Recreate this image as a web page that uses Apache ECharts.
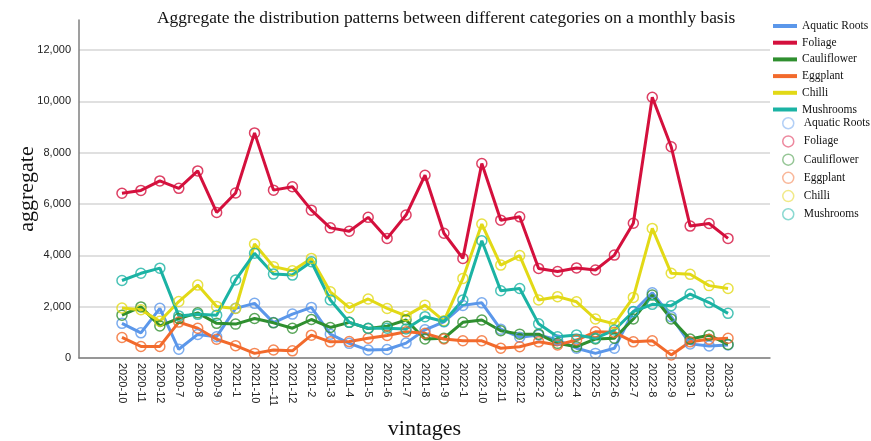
<!DOCTYPE html>
<html>
<head>
<meta charset="utf-8">
<script src="https://cdn.jsdelivr.net/npm/echarts@6/dist/echarts.min.js"></script>
<style>
  html, body { margin: 0; padding: 0; background: #ffffff; }
  #chart { width: 871px; height: 441px; }
</style>
</head>
<body>
<div id="chart"></div>
<script>
// Month labels as they appear on the category axis
const months = ['2020-10', '2020-11', '2020-12', '2020-7', '2020-8', '2020-9', '2021-1', '2021-10', '2021--11',
  '2021-12', '2021-2', '2021-3', '2021-4', '2021-5', '2021-6', '2021-7', '2021-8', '2021-9', '2022-1', '2022-10',
  '2022-11', '2022-12', '2022-2', '2022-3', '2022-4', '2022-5', '2022-6', '2022-7', '2022-8', '2022-9',
  '2023-1', '2023-2', '2023-3'];

// Monthly aggregate per category
const aquaticRoots = [1350, 980, 1935, 340, 920, 830, 1935, 2130, 1380, 1710, 1970, 930, 570, 310, 330, 580, 1100, 1410,
  2050, 2150, 1120, 810, 900, 700, 380, 180, 380, 1800, 2540, 1610, 550, 470, 510];
const foliage = [6420, 6530, 6900, 6610, 7290, 5670, 6430, 8770, 6540, 6670, 5760, 5070, 4940, 5480, 4660, 5570, 7120,
  4860, 3880, 7580, 5370, 5500, 3490, 3370, 3510, 3430, 4010, 5250, 10160, 8230, 5140, 5240, 4660];
const cauliflower = [1670, 1990, 1250, 1540, 1760, 1350, 1320, 1540, 1370, 1160, 1500, 1190, 1390, 1150, 1240, 1480, 740,
  770, 1390, 1480, 1060, 930, 930, 570, 440, 740, 770, 1520, 2450, 1520, 740, 890, 530];
const eggplant = [800, 450, 450, 1400, 1160, 730, 480, 180, 310, 280, 890, 630, 640, 770, 880, 1020, 960, 740, 670, 670,
  380, 440, 630, 510, 700, 1020, 1000, 630, 670, 120, 630, 730, 770];
const chilli = [1950, 1880, 1430, 2200, 2840, 2010, 1930, 4440, 3560, 3400, 3880, 2580, 1960, 2300, 1930, 1640, 2060,
  1450, 3100, 5220, 3620, 3990, 2260, 2390, 2190, 1520, 1330, 2360, 5050, 3300, 3260, 2820, 2710];
const mushrooms = [3020, 3300, 3500, 1640, 1700, 1670, 3040, 4080, 3270, 3230, 3750, 2260, 1390, 1160, 1160, 1130, 1610,
  1420, 2260, 4570, 2620, 2710, 1330, 830, 900, 770, 1090, 1810, 2090, 2040, 2490, 2160, 1740];

// Y axis tick values
const yTicks = [0, 2000, 4000, 6000, 8000, 10000, 12000];

const categories = ['Aquatic Roots', 'Foliage', 'Cauliflower', 'Eggplant', 'Chilli', 'Mushrooms'];
const values = [aquaticRoots, foliage, cauliflower, eggplant, chilli, mushrooms];
const colors = ['#5b97ea', '#d4103d', '#2f8f2f', '#f26a2c', '#e2d916', '#1bb3a4'];
const paleColors = ['#9fc3f4', '#e86a86', '#7cb87c', '#f7a57f', '#ede46a', '#6ed0c6'];

const serif = '"Liberation Serif", "Times New Roman", serif';
const sans = '"Liberation Sans", Arial, sans-serif';

const yMax = yTicks[yTicks.length - 1];
const yStep = yTicks[1] - yTicks[0];

const lineSeries = categories.map((name, i) => ({
  name: name,
  type: 'line',
  xAxisIndex: 2,
  yAxisIndex: 2,
  data: values[i],
  showSymbol: false,
  symbol: 'none',
  z: 3,
  lineStyle: { width: 3, color: colors[i] },
  itemStyle: { color: colors[i] },
  emphasis: { disabled: true }
}));

// Hollow markers sit on top of every point; their legend keys are listed separately
const markerSeries = categories.map((name, i) => ({
  name: name + ' ',
  type: 'scatter',
  xAxisIndex: 2,
  yAxisIndex: 2,
  data: values[i],
  symbol: 'circle',
  symbolSize: 10,
  z: 4,
  itemStyle: { color: 'rgba(255,255,255,0)', borderColor: colors[i], borderWidth: 1.5 },
  emphasis: { disabled: true }
}));

const chart = echarts.init(document.getElementById('chart'), null, { renderer: 'canvas', devicePixelRatio: 1 });

chart.setOption({
  animation: false,
  backgroundColor: '#ffffff',
  title: {
    text: 'Aggregate the distribution patterns between different categories on a monthly basis',
    left: 152,
    top: 5,
    textStyle: { fontFamily: serif, fontSize: 17.4, fontWeight: 'normal', color: '#111111' }
  },
  legend: [
    {
      data: categories,
      orient: 'vertical',
      left: 768,
      top: 15,
      icon: 'rect',
      itemWidth: 24,
      itemHeight: 4,
      itemGap: 4.7,
      selectedMode: false,
      textStyle: { fontFamily: serif, fontSize: 11.5, lineHeight: 12, color: '#111111' }
    },
    {
      data: categories.map((name, i) => ({
        name: name + ' ',
        itemStyle: { color: 'rgba(255,255,255,0)', borderColor: paleColors[i], borderWidth: 1.5 }
      })),
      formatter: (name) => name.trim(),
      orient: 'vertical',
      left: 777,
      top: 112,
      icon: 'circle',
      itemWidth: 11,
      itemHeight: 11,
      itemGap: 5.7,
      selectedMode: false,
      textStyle: { fontFamily: serif, fontSize: 11.5, lineHeight: 12, color: '#111111', padding: [0, 0, 0, 5] }
    }
  ],
  grid: [
    { left: 79, right: 101, top: 20, bottom: 83, outerBoundsMode: 'none' },      // frame: axis lines
    { left: 79, right: 101, top: 50, bottom: 83, outerBoundsMode: 'none' },      // value scale: labels and grid lines
    { left: 112.5, right: 133.5, top: 50, bottom: 83, outerBoundsMode: 'none' }  // plotting area for the months
  ],
  xAxis: [
    {
      gridIndex: 0, type: 'value', min: 0, max: 1, z: 5,
      axisLine: { show: true, lineStyle: { color: '#7f7f7f', width: 1.5 } },
      axisTick: { show: false }, axisLabel: { show: false }, splitLine: { show: false },
      name: 'vintages', nameLocation: 'middle', nameGap: 60,
      nameTextStyle: { fontFamily: serif, fontSize: 22, color: '#111111' }
    },
    { gridIndex: 1, type: 'value', min: 0, max: 1, show: false },
    {
      gridIndex: 2, type: 'category', data: months, boundaryGap: true,
      axisLine: { show: false }, axisTick: { show: false },
      axisLabel: { interval: 0, rotate: -90, margin: 5, fontFamily: sans, fontSize: 11, color: '#222222' }
    }
  ],
  yAxis: [
    {
      gridIndex: 0, type: 'value', min: 0, max: 1, z: 5,
      axisLine: { show: true, lineStyle: { color: '#7f7f7f', width: 1.5 } },
      axisTick: { show: false }, axisLabel: { show: false }, splitLine: { show: false },
      name: 'aggregate', nameLocation: 'middle', nameGap: 41, nameRotate: 90,
      nameTextStyle: { fontFamily: serif, fontSize: 22, color: '#111111' }
    },
    {
      gridIndex: 1, type: 'value', min: 0, max: yMax, interval: yStep,
      axisLine: { show: false }, axisTick: { show: false },
      axisLabel: {
        margin: 8, fontFamily: sans, fontSize: 11, color: '#222222',
        formatter: (v) => v.toLocaleString('en-US')
      },
      splitLine: { show: true, lineStyle: { color: '#d6d6d6', width: 1.5 } }
    },
    { gridIndex: 2, type: 'value', min: 0, max: yMax, show: false }
  ],
  series: [...lineSeries, ...markerSeries]
});
</script>
</body>
</html>
